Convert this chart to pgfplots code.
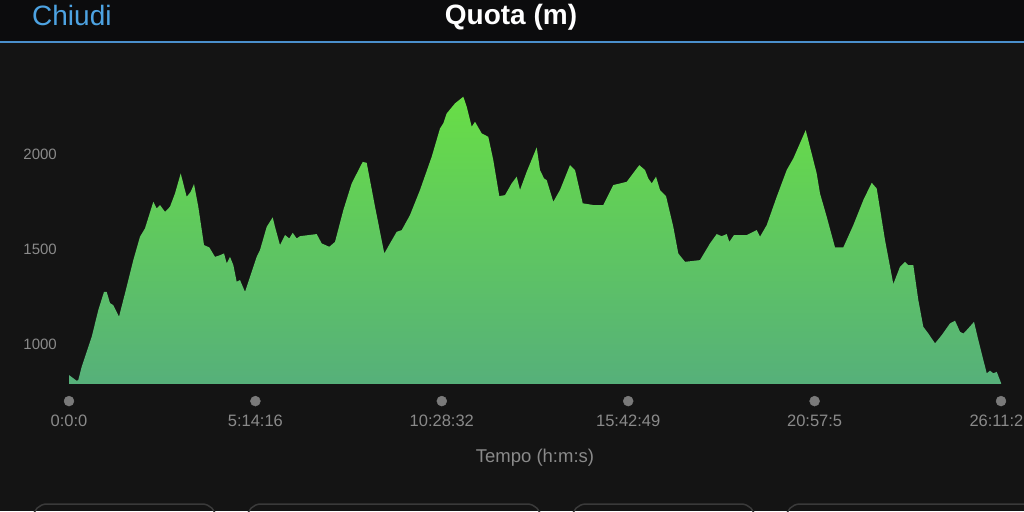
\documentclass[border=0pt]{standalone}
\usepackage{fontspec}
\setmainfont{Liberation Sans}
\usepackage{pgfplots}
\pgfplotsset{compat=1.18}
\definecolor{bg}{HTML}{141414}
\definecolor{hdr}{HTML}{0C0C0D}
\definecolor{bluel}{HTML}{4A8FCB}
\definecolor{chiudi}{HTML}{4DA3E2}
\definecolor{labgray}{HTML}{8A8A8A}
\definecolor{dotgray}{HTML}{7A7A7A}
\definecolor{gtop}{HTML}{68DE46}
\definecolor{gbot}{HTML}{56B07A}
\definecolor{btn}{HTML}{3A3A3A}
\begin{document}
\begin{tikzpicture}[x=1pt,y=1pt]
\begin{scope}
\clip (0,0) rectangle (1024,511);
\fill[bg] (0,0) rectangle (1024,511);
\fill[hdr] (0,469) rectangle (1024,511);
\draw[bluel, line width=2pt] (0,469) -- (1024,469);
\node[text=chiudi, font=\fontsize{28}{32}\selectfont, anchor=west, inner sep=0pt] at (32,496) {Chiudi};
\node[text=white, font=\fontsize{28}{32}\selectfont\bfseries, inner sep=0pt] at (511,494) {Quota (m)};
\draw[btn, line width=1.5pt, rounded corners=14pt] (33,-20) rectangle (216,7);
\draw[btn, line width=1.5pt, rounded corners=14pt] (247,-20) rectangle (541,7);
\draw[btn, line width=1.5pt, rounded corners=14pt] (572,-20) rectangle (755,7);
\draw[btn, line width=1.5pt, rounded corners=14pt] (786,-20) rectangle (1045,7);
\begin{axis}[
  at={(69pt,127pt)}, anchor=south west,
  scale only axis, width=932pt, height=296.4pt,
  xmin=0, xmax=26.1892, ymin=790, ymax=2350,
  axis line style={draw=none},
  major tick length=0pt,
  clip=false,
  /pgf/number format/assume math mode=true,
  ytick={1000,1500,2000},
  yticklabel style={anchor=east, inner sep=0pt, xshift=-12pt, text=labgray, font=\fontsize{15}{18}\selectfont},
  /pgf/number format/1000 sep={},
  xtick={0,5.2378,10.4756,15.7136,20.9514,26.1892},
  xticklabels={0:0:0,5:14:16,10:28:32,15:42:49,20:57:5,26:11:22},
  xticklabel style={anchor=center, yshift=-37pt, text=labgray, font=\fontsize{16.5}{19}\selectfont},
  xlabel={Tempo (h:m:s)},
  xlabel style={at={(axis description cs:0.5,0)}, anchor=center, yshift=-74pt, text=labgray, font=\fontsize{18.5}{22}\selectfont},
]
\addplot[draw=none, top color=gtop, bottom color=gbot] coordinates {
(0,837) (0.216,807) (0.261,811) (0.357,881) (0.497,960) (0.638,1038) (0.823,1179) (0.984,1275) (1.059,1275) (1.152,1216) (1.245,1205) (1.405,1144) (1.621,1302) (1.807,1442) (1.995,1565) (2.135,1609) (2.369,1749) (2.464,1714) (2.557,1732) (2.698,1696) (2.838,1723) (2.979,1793) (3.139,1898) (3.307,1775) (3.420,1802) (3.513,1842) (3.633,1723) (3.794,1521) (3.942,1509) (4.103,1459) (4.243,1468) (4.356,1477) (4.431,1425) (4.524,1459) (4.617,1416) (4.712,1328) (4.805,1337) (4.946,1275) (5.086,1354) (5.274,1459) (5.367,1495) (5.555,1617) (5.724,1667) (5.789,1617) (5.929,1521) (6.070,1574) (6.190,1556) (6.286,1586) (6.398,1556) (6.491,1568) (6.960,1579) (7.101,1530) (7.314,1512) (7.475,1538) (7.708,1705) (7.944,1846) (8.253,1959) (8.365,1954) (8.599,1723) (8.860,1477) (9.020,1530) (9.208,1591) (9.349,1600) (9.582,1679) (9.863,1811) (10.192,1986) (10.425,2135) (10.518,2162) (10.613,2214) (10.847,2267) (11.080,2302) (11.176,2249) (11.316,2144) (11.409,2170) (11.597,2109) (11.782,2091) (11.923,1968) (12.091,1779) (12.252,1784) (12.440,1846) (12.580,1881) (12.673,1811) (12.861,1907) (13.142,2035) (13.235,1916) (13.348,1872) (13.423,1863) (13.609,1749) (13.797,1811) (14.078,1942) (14.219,1916) (14.435,1741) (14.733,1732) (15.014,1732) (15.295,1837) (15.671,1854) (16.025,1942) (16.186,1916) (16.278,1872) (16.374,1846) (16.495,1881) (16.607,1811) (16.776,1779) (16.981,1617) (17.121,1477) (17.310,1433) (17.731,1442) (18.012,1530) (18.200,1579) (18.341,1568) (18.481,1579) (18.554,1538) (18.687,1574) (19.043,1574) (19.324,1600) (19.417,1565) (19.605,1626) (19.886,1775) (20.167,1916) (20.353,1977) (20.701,2126) (21.010,1898) (21.103,1793) (21.291,1670) (21.525,1509) (21.758,1509) (22.039,1626) (22.320,1758) (22.556,1849) (22.696,1819) (22.930,1547) (23.163,1316) (23.351,1407) (23.492,1433) (23.582,1416) (23.725,1416) (23.865,1232) (24.006,1091) (24.146,1056) (24.335,1004) (24.523,1047) (24.756,1109) (24.897,1123) (25.037,1065) (25.130,1056) (25.226,1074) (25.431,1117) (25.552,1021) (25.788,846) (25.880,860) (25.975,846) (26.069,854) (26.1892,796)
} \closedcycle;
\addplot[only marks, mark=*, mark size=5pt, dotgray, mark options={draw=dotgray, fill=dotgray}] coordinates {
(0,700) (5.2378,700) (10.4756,700) (15.7136,700) (20.9514,700) (26.1892,700)
};
\end{axis}
\end{scope}
\pgfresetboundingbox
\useasboundingbox (0,0) rectangle (1024,511);
\end{tikzpicture}
\end{document}
